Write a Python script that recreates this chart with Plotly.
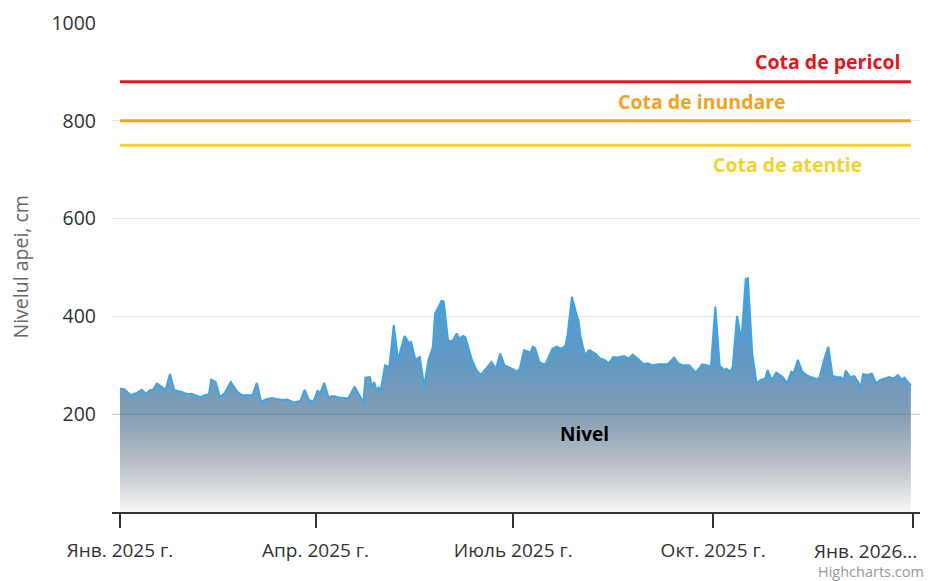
import pandas as pd
import plotly.graph_objects as go

# ---- data ----
start_date = "2025-01-01"
day_offsets = [0,2,5,8,10,12,14,15,17,19,21,23,25,28,31,33,35,37,39,41,
               42,44,46,48,51,54,56,58,61,63,65,67,70,72,75,77,80,83,85,87,
               89,91,92,94,96,98,101,105,108,112,113,115,116,117,118,119,120,122,124,126,
               128,130,131,133,134,136,138,140,142,144,145,148,149,151,153,155,156,158,159,162,
               164,166,169,171,173,175,177,180,
               183,184,186,189,190,191,193,195,196,199,201,203,205,206,208,210,211,212,214,216,
               219,221,223,225,227,229,232,234,236,239,241,243,245,248,252,255,257,259,262,265,
               268,270,272,274,276,278,279,281,282,284,286,288,289,291,293,295,297,298,300,302,
               305,307,309,310,312,314,316,318,321,322,324,326,328,330,332,333,334,336,338,341,
               342,344,346,348,350,354,356,358,360,361,363,364]
levels = [252,251,239,244,250,242,250,249,263,257,250,282,249,246,241,242,239,235,239,241,
          271,266,235,242,266,246,239,239,239,264,225,230,233,231,229,230,224,227,250,229,
          225,249,241,264,234,237,234,232,256,224,275,276,255,266,249,255,249,300,297,382,
          311,345,360,346,348,311,317,257,311,338,406,432,430,351,349,365,355,360,357,311,
          291,280,295,307,293,324,300,293,
          287,293,331,326,338,336,307,302,304,334,338,334,339,362,440,406,392,358,321,331,
          323,314,311,304,317,316,319,314,322,311,302,304,300,302,302,316,304,300,300,285,
          302,300,298,420,300,290,293,287,297,401,351,476,478,324,264,270,273,290,270,285,
          276,263,287,283,311,287,280,276,271,276,311,338,278,276,275,268,289,276,278,256,
          282,280,283,263,270,276,273,280,270,275,264,259]

threshold_names = ["Cota de pericol", "Cota de inundare", "Cota de atentie"]
threshold_values = [880, 800, 750]
threshold_colors = ["#e3151f", "#f2a31c", "#f5d22a"]

tick_dates = ["2025-01-01", "2025-04-01", "2025-07-01", "2025-10-01", "2026-01-01"]
tick_labels = ["Янв. 2025 г.", "Апр. 2025 г.", "Июль 2025 г.", "Окт. 2025 г.", "Янв. 2026..."]
y_ticks = [200, 400, 600, 800, 1000]

series_name = "Nivel"
y_title = "Nivelul apei, cm"

# ---- build ----
dates = pd.Timestamp(start_date) + pd.to_timedelta(day_offsets, unit="D")
first, last = dates[0], dates[-1]

FONT = "Open Sans, Segoe UI, sans-serif"
fig = go.Figure()

fig.add_trace(go.Scatter(
    x=dates, y=levels, mode="lines", name=series_name,
    line=dict(color="#3da5e6", width=2),
    fill="tozeroy",
    fillgradient=dict(type="vertical", start=0, stop=max(levels),
                      colorscale=[[0, "rgb(247,247,248)"], [0.2, "rgb(186,193,199)"],
                                  [0.42, "rgb(130,158,180)"], [0.63, "rgb(100,152,192)"],
                                  [1, "rgb(72,160,218)"]]),
    hoverinfo="x+y", showlegend=False,
))

for name, val, col in zip(threshold_names, threshold_values, threshold_colors):
    fig.add_trace(go.Scatter(
        x=[first, last], y=[val, val], mode="lines", name=name,
        line=dict(color=col, width=3), showlegend=False, hoverinfo="y",
    ))

# grid line at 200 visible through the area
fig.add_shape(type="line", xref="paper", x0=0, x1=1, yref="y", y0=200, y1=200,
              line=dict(color="rgba(60,80,100,0.22)", width=1), layer="above")

# labels
lab_font = dict(family=FONT, size=19.5)
fig.add_annotation(x=pd.Timestamp("2025-12-27"), y=922, text="<b>Cota de pericol</b>",
                   showarrow=False, xanchor="right", yanchor="middle",
                   font=dict(color=threshold_colors[0], **lab_font))
fig.add_annotation(x=pd.Timestamp("2025-09-26"), y=840, text="<b>Cota de inundare</b>",
                   showarrow=False, xanchor="center", yanchor="middle",
                   font=dict(color=threshold_colors[1], **lab_font))
fig.add_annotation(x=pd.Timestamp("2025-11-04"), y=711, text="<b>Cota de atentie</b>",
                   showarrow=False, xanchor="center", yanchor="middle",
                   font=dict(color=threshold_colors[2], **lab_font))
fig.add_annotation(x=pd.Timestamp("2025-08-03"), y=159, text="<b>Nivel</b>",
                   showarrow=False, xanchor="center", yanchor="middle",
                   font=dict(color="#000000", family=FONT, size=19))
# last x tick label, shifted left to fit inside the chart (as Highcharts does)
fig.add_annotation(x=1, y=0, xref="paper", yref="paper", text=tick_labels[-1],
                   showarrow=False, xanchor="right", yanchor="top", yshift=-24, xshift=-1,
                   font=dict(family=FONT, size=19, color="#333333"))
fig.add_annotation(x=1, y=0, xref="paper", yref="paper", xshift=6,
                   text="Highcharts.com", showarrow=False, xanchor="right", yanchor="top",
                   yshift=-48, font=dict(color="#999999", family=FONT, size=14.5))
fig.add_annotation(x=0, y=0.5, xref="paper", yref="paper", xshift=-92,
                   text=y_title, textangle=-90, showarrow=False,
                   xanchor="center", yanchor="middle",
                   font=dict(family=FONT, size=19.5, color="#666666"))

# page body has an 8px margin: the figure is sized so the chart lands where the reference shows it
fig.update_layout(
    width=928, height=573,
    margin=dict(l=104, r=16, t=15, b=69),
    paper_bgcolor="white", plot_bgcolor="white",
    showlegend=False,
    xaxis=dict(
        range=[pd.Timestamp("2024-12-28 08:00"), pd.Timestamp("2026-01-04 05:00")],
        tickvals=pd.to_datetime(tick_dates), ticktext=tick_labels[:-1] + [""],
        ticks="outside", ticklen=14, tickwidth=1.5, tickcolor="#333333",
        showline=True, linecolor="#333333", linewidth=1.5,
        showgrid=False, zeroline=False, automargin=False, ticklabelstandoff=6,
        tickfont=dict(family=FONT, size=19, color="#333333"),
    ),
    yaxis=dict(
        range=[0, 1000], tickvals=y_ticks,
        showgrid=True, gridcolor="#e6e6e6", gridwidth=1, zeroline=False,
        showline=False, ticks="", ticklabelstandoff=15, automargin=False,
        tickfont=dict(family=FONT, size=19.5, color="#333333"),
    ),
)

fig.write_html("out.html")
